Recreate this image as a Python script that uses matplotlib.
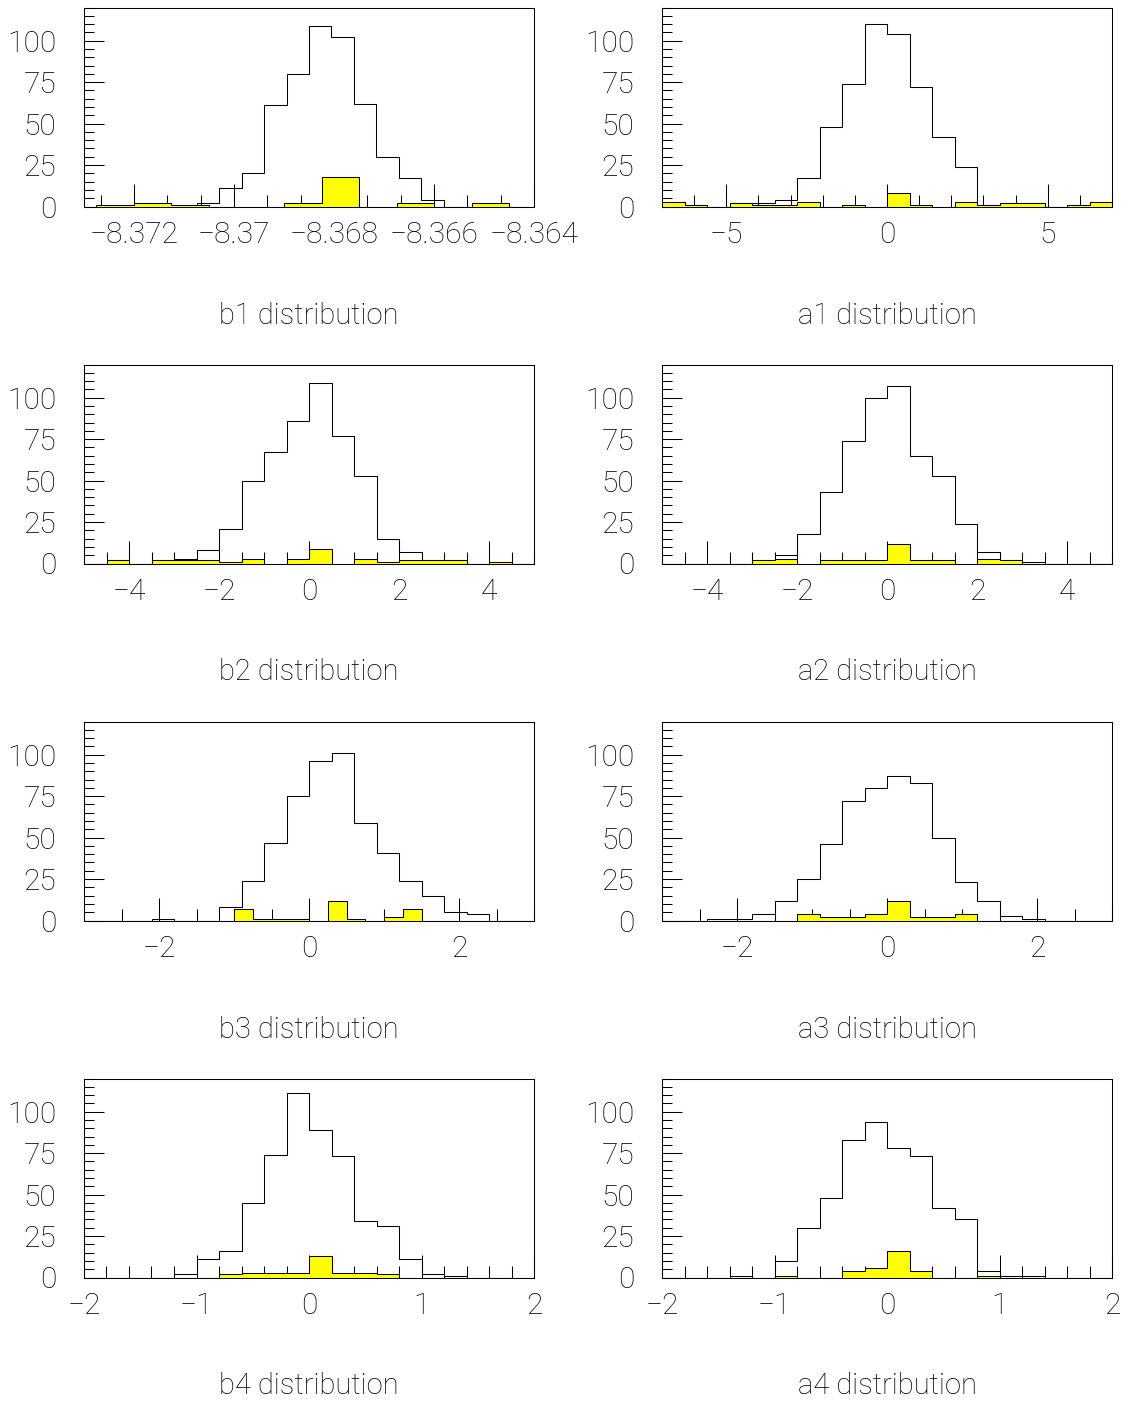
import numpy as np
import matplotlib
matplotlib.use("Agg")
import matplotlib.pyplot as plt
from matplotlib.ticker import MultipleLocator, FuncFormatter

plt.rcParams['font.family'] = ['Roboto', 'DejaVu Sans']
plt.rcParams['font.weight'] = 'light'
plt.rcParams['axes.labelweight'] = 'light'
plt.rcParams['axes.unicode_minus'] = True

# ---------------- data (counts per bin) ----------------
# full sample (black outline), 20 bins over the axis range
b1_all = [0, 0, 0, 0, 0, 2, 11, 20, 61, 80, 109, 102, 62, 30, 17, 4, 0, 0, 0, 0]
a1_all = [3, 1, 0, 2, 2, 4, 17, 48, 74, 110, 104, 72, 42, 24, 1, 2, 2, 0, 1, 3]
b2_all = [0, 2, 0, 2, 3, 8, 21, 50, 67, 86, 109, 77, 53, 15, 7, 2, 2, 0, 1, 0]
a2_all = [0, 0, 0, 0, 2, 5, 18, 43, 74, 100, 107, 65, 53, 24, 7, 2, 1, 0, 0, 0]
b3_all = [0, 0, 0, 1, 0, 0, 8, 24, 47, 75, 96, 101, 59, 41, 24, 15, 5, 4, 0, 0]
a3_all = [0, 0, 1, 1, 4, 12, 25, 46, 72, 80, 87, 83, 50, 23, 12, 3, 1, 0, 0, 0]
b4_all = [0, 0, 0, 0, 2, 11, 16, 45, 74, 111, 89, 73, 34, 31, 11, 2, 1, 0, 0, 0]
a4_all = [0, 0, 0, 1, 0, 10, 30, 48, 83, 94, 78, 73, 42, 35, 4, 1, 1, 0, 0, 0]

# selected sample (yellow filled)
b1_sel = [1, 2, 1, 0, 0, 2, 18, 0, 2, 0, 2, 0]
a1_sel = [3, 1, 0, 2, 1, 1, 3, 0, 1, 0, 8, 1, 0, 3, 1, 2, 2, 0, 1, 3]
b2_sel = [0, 2, 0, 2, 2, 2, 1, 3, 0, 3, 9, 0, 3, 1, 2, 2, 2, 0, 1, 0]
a2_sel = [0, 0, 0, 0, 2, 3, 0, 2, 2, 2, 12, 2, 2, 0, 3, 2, 0, 0, 0, 0]
b3_sel = [0, 0, 0, 0, 0, 0, 0, 0, 7, 1, 1, 1, 0, 12, 1, 0, 2, 7, 0, 0, 0, 0, 0, 0]
a3_sel = [0, 0, 0, 0, 0, 0, 4, 2, 2, 4, 12, 2, 2, 4, 0, 0, 0, 0, 0, 0]
b4_sel = [0, 0, 0, 0, 0, 0, 2, 3, 3, 3, 13, 3, 3, 2, 0, 0, 0, 0, 0, 0]
a4_sel = [0, 0, 0, 0, 0, 1, 0, 0, 4, 6, 16, 4, 0, 0, 1, 0, 0, 0, 0, 0]

# histogram ranges (binning)
b1_range = (-8.373, -8.364)
b1_sel_range = (-8.37275, -8.36375)
a1_range = (-7.0, 7.0)
b2_range = (-5.0, 5.0)
a2_range = (-5.0, 5.0)
b3_range = (-3.0, 3.0)
a3_range = (-3.0, 3.0)
b4_range = (-2.0, 2.0)
a4_range = (-2.0, 2.0)

names = ["b1", "a1", "b2", "a2", "b3", "a3", "b4", "a4"]
all_counts = [b1_all, a1_all, b2_all, a2_all, b3_all, a3_all, b4_all, a4_all]
sel_counts = [b1_sel, a1_sel, b2_sel, a2_sel, b3_sel, a3_sel, b4_sel, a4_sel]
ranges = [b1_range, a1_range, b2_range, a2_range, b3_range, a3_range, b4_range, a4_range]
sel_ranges = [b1_sel_range, a1_range, b2_range, a2_range, b3_range, a3_range, b4_range, a4_range]
major_steps = [0.002, 5, 2, 2, 2, 2, 1, 1]
minor_steps = [0.002 / 3, 1, 0.5, 0.5, 0.5, 0.5, 0.2, 0.2]

# ---------------- figure ----------------
W, H = 1127, 1405
fig = plt.figure(figsize=(W / 100, H / 100), dpi=100)
lefts = [84, 662]
tops = [7.5, 364.5, 721.5, 1078.5]
aw, ah = 450, 199


def fmt(v, pos):
    s = "%g" % round(v, 6)
    if s in ("-0", "−0"):
        s = "0"
    return s.replace("-", "\u2212")


lw = 0.75
for i in range(8):
    r, c = divmod(i, 2)
    ax = fig.add_axes([lefts[c] / W, 1 - (tops[r] + ah) / H, aw / W, ah / H])
    lo, hi = ranges[i]
    edges = np.linspace(lo, hi, len(all_counts[i]) + 1)
    ax.stairs(all_counts[i], edges, color="black", lw=lw, zorder=2.6)
    slo, shi = sel_ranges[i]
    sedges = np.linspace(slo, shi, len(sel_counts[i]) + 1)
    ax.stairs(sel_counts[i], sedges, fill=True, facecolor="#ffff00",
              edgecolor="black", lw=lw, zorder=3)

    ax.set_xlim(lo, hi)
    ax.set_ylim(0, 120)
    ax.yaxis.set_major_locator(MultipleLocator(25))
    ax.yaxis.set_minor_locator(MultipleLocator(5))
    ax.xaxis.set_major_locator(MultipleLocator(major_steps[i]))
    ax.xaxis.set_minor_locator(MultipleLocator(minor_steps[i]))
    ax.xaxis.set_major_formatter(FuncFormatter(fmt))
    ax.yaxis.set_major_formatter(FuncFormatter(fmt))

    ax.tick_params(axis="both", which="both", direction="in", top=False,
                   right=False, width=lw, color="black", labelcolor="black")
    ax.tick_params(axis="y", which="major", length=14.4, pad=20, labelsize=21.5)
    ax.tick_params(axis="y", which="minor", length=7.2)
    ax.tick_params(axis="x", which="major", length=16.5, pad=10.5, labelsize=21.5)
    ax.tick_params(axis="x", which="minor", length=8.3)
    for sp in ax.spines.values():
        sp.set_linewidth(lw)

    ax.set_xlabel(f"{names[i]} distribution", fontsize=21, fontweight="light",
                  color="black")
    ax.xaxis.label.set_va("baseline")
    ax.xaxis.set_label_coords(0.5, -117 / ah)

fig.savefig("out.png", dpi=100, facecolor="white")
